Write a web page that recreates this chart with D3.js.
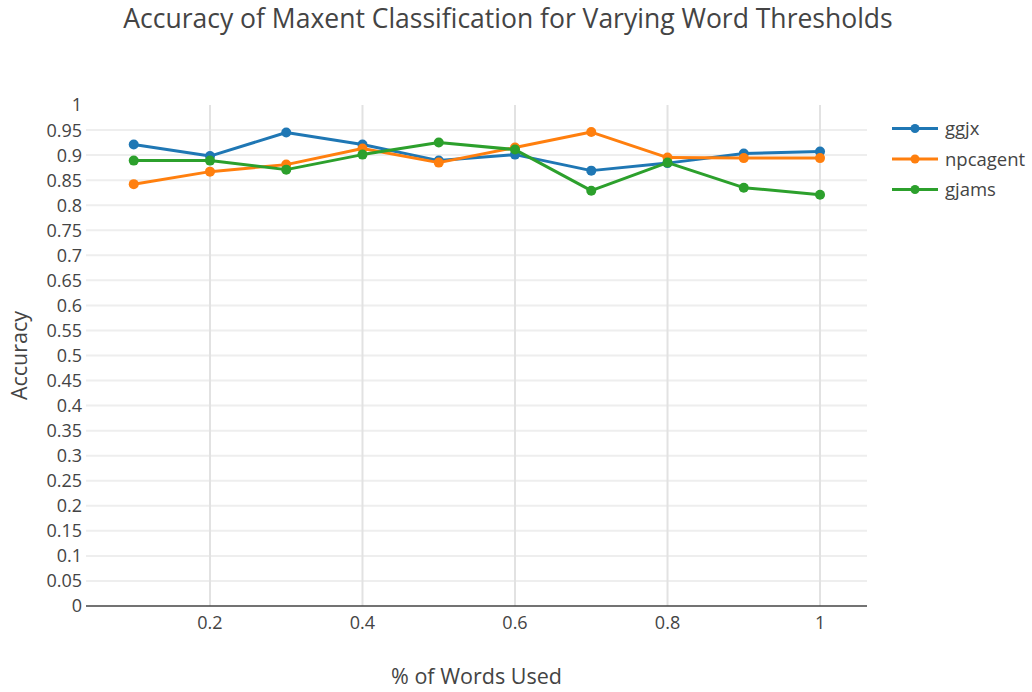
<!DOCTYPE html>
<html lang="en">
<head>
<meta charset="utf-8">
<title>Accuracy of Maxent Classification</title>
<script src="https://d3js.org/d3.v7.min.js"></script>
<style>
body { margin: 0; background: #fff; }
text { font-family: "Open Sans", sans-serif; fill: #444; }
</style>
</head>
<body>
<script>
// data
const xValues = [0.1, 0.2, 0.3, 0.4, 0.5, 0.6, 0.7, 0.8, 0.9, 1.0];
const ggjx     = [0.921, 0.898, 0.945, 0.921, 0.889, 0.901, 0.869, 0.884, 0.903, 0.907];
const npcagent = [0.842, 0.867, 0.881, 0.913, 0.885, 0.915, 0.946, 0.895, 0.894, 0.894];
const gjams    = [0.889, 0.889, 0.871, 0.901, 0.925, 0.911, 0.829, 0.885, 0.835, 0.821];
const seriesNames = ["ggjx", "npcagent", "gjams"];
const seriesColors = ["#1f77b4", "#ff7f0e", "#2ca02c"];
const xTicks = [0.2, 0.4, 0.6, 0.8, 1];
const yTicks = d3.range(0, 21).map(i => +(i * 0.05).toFixed(2));

const w = 1032, h = 692;
const margin = {left: 86, right: 165, top: 105, bottom: 86};

const svg = d3.select("body").append("svg")
  .attr("width", w).attr("height", h);

const x = d3.scaleLinear().domain([0.0374, 1.0616]).range([margin.left, w - margin.right]);
const y = d3.scaleLinear().domain([0, 1]).range([h - margin.bottom, margin.top]);

// horizontal grid
svg.append("g").selectAll("line")
  .data(yTicks.filter(t => t > 0 && t < 1))
  .enter().append("line")
  .attr("x1", margin.left).attr("x2", w - margin.right)
  .attr("y1", d => y(d)).attr("y2", d => y(d))
  .attr("stroke", "#eee").attr("stroke-width", 2);

// vertical grid
svg.append("g").selectAll("line")
  .data(xTicks)
  .enter().append("line")
  .attr("x1", d => x(d)).attr("x2", d => x(d))
  .attr("y1", margin.top).attr("y2", h - margin.bottom)
  .attr("stroke", "#e2e2e2").attr("stroke-width", 2);

// zero line
svg.append("line")
  .attr("x1", margin.left).attr("x2", w - margin.right)
  .attr("y1", y(0)).attr("y2", y(0))
  .attr("stroke", "#444").attr("stroke-width", 1.5);

// y tick labels
svg.append("g").selectAll("text")
  .data(yTicks)
  .enter().append("text")
  .attr("x", 82)
  .attr("y", d => y(d))
  .attr("dy", "0.36em")
  .attr("text-anchor", "end")
  .style("font-size", "18px")
  .text(d => d3.format("~g")(d));

// x tick labels
svg.append("g").selectAll("text")
  .data(xTicks)
  .enter().append("text")
  .attr("x", d => x(d))
  .attr("y", 629)
  .attr("text-anchor", "middle")
  .style("font-size", "18px")
  .text(d => d3.format("~g")(d));

// series
const allSeries = [ggjx, npcagent, gjams];
const line = d3.line().x((d, i) => x(xValues[i])).y(d => y(d));

allSeries.forEach(function(vals, k) {
  const g = svg.append("g");
  g.append("path")
    .datum(vals)
    .attr("d", line)
    .attr("fill", "none")
    .attr("stroke", seriesColors[k])
    .attr("stroke-width", 3)
    .attr("stroke-linejoin", "round");
  g.selectAll("circle")
    .data(vals)
    .enter().append("circle")
    .attr("cx", (d, i) => x(xValues[i]))
    .attr("cy", d => y(d))
    .attr("r", 5)
    .attr("fill", seriesColors[k]);
});

// legend
const legend = svg.append("g");
seriesNames.forEach(function(name, k) {
  const ly = 128.5 + k * 30.5;
  legend.append("line")
    .attr("x1", 892).attr("x2", 938)
    .attr("y1", ly).attr("y2", ly)
    .attr("stroke", seriesColors[k]).attr("stroke-width", 3);
  legend.append("circle")
    .attr("cx", 915).attr("cy", ly).attr("r", 4.5)
    .attr("fill", seriesColors[k]);
  legend.append("text")
    .attr("x", 945).attr("y", ly)
    .attr("dy", "0.36em")
    .style("font-size", "18.5px")
    .text(name);
});

// titles
svg.append("text")
  .attr("x", 508).attr("y", 27.5)
  .attr("text-anchor", "middle")
  .style("font-size", "26.5px")
  .text("Accuracy of Maxent Classification for Varying Word Thresholds");

svg.append("text")
  .attr("x", (margin.left + w - margin.right) / 2)
  .attr("y", 684)
  .attr("text-anchor", "middle")
  .style("font-size", "21.5px")
  .text("% of Words Used");

svg.append("text")
  .attr("transform", "translate(26.5," + ((margin.top + h - margin.bottom) / 2) + ") rotate(-90)")
  .attr("text-anchor", "middle")
  .style("font-size", "21.5px")
  .text("Accuracy");
</script>
</body>
</html>
